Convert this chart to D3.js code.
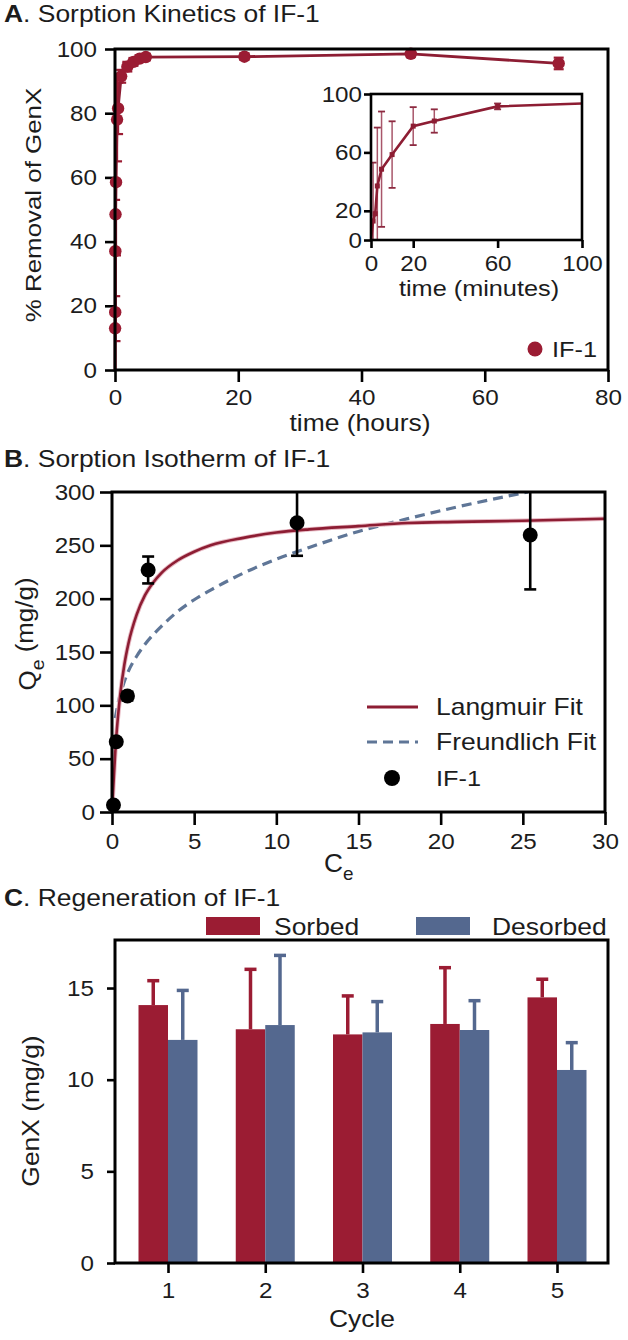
<!DOCTYPE html>
<html><head><meta charset="utf-8">
<script src="https://cdn.jsdelivr.net/npm/d3@7"></script>
<style>
body{margin:0;background:#fff}
svg{display:block}
text{font-family:"Liberation Sans",Arial,Helvetica,sans-serif;fill:#1c1c1c}
</style>
</head><body>
<svg id="chart" width="628" height="1340"></svg>
<script>
// ---------- Panel A: sorption kinetics (time in minutes, % removal) ----------
const kinMinutes = [0, 1, 2, 3, 5, 10, 20, 30, 60, 120, 180, 240, 300, 1260, 2880, 4320];
const kinRemoval = [0, 13, 18, 37, 48.5, 58.5, 78, 81.5, 91.5, 94.5, 96, 97, 97.5, 97.6, 98.5, 95.5];
const kinError   = [0, 40, 5, 40, 39.5, 22.8, 13, 8, 2, 1.5, 1.2, 1, 1, 1, 1, 1.8];
const xTicksA = [0, 20, 40, 60, 80];
const yTicksA = [0, 20, 40, 60, 80, 100];
const xTicksInset = [0, 20, 60, 100];
const yTicksInset = [0, 20, 60, 100];

// ---------- Panel B: sorption isotherm ----------
const isoCe  = [0.09, 0.26, 0.94, 2.2, 11.26, 25.45];
const isoQe  = [6.6, 65.9, 108.7, 226.9, 271.2, 259.7];
const isoErr = [0, 0, 4, 12.6, 31, 51];
const langCe = [0, 0.25, 0.5, 0.75, 1, 1.5, 2, 2.5, 3, 4, 5, 6, 8, 10, 12, 15, 18, 21, 25, 30];
const langQe = [0, 68, 110, 138, 158, 185, 203, 215, 224, 236, 244, 250, 257, 262, 265, 268, 271, 272, 273, 275];
const freuCe = [0.2, 0.4, 0.7, 1, 1.5, 2, 3, 4, 5, 6, 8, 10, 12, 15, 18, 21, 25.3];
const freuQe = [88, 104, 120, 132, 146, 157, 174, 188, 199, 208, 224, 237, 248, 263, 275, 286, 300];
const xTicksB = [0, 5, 10, 15, 20, 25, 30];
const yTicksB = [0, 50, 100, 150, 200, 250, 300];

// ---------- Panel C: regeneration ----------
const cycles = ["1", "2", "3", "4", "5"];
const seriesNames = ["Sorbed", "Desorbed"];
const sorbed      = [14.07, 12.75, 12.47, 13.04, 14.49];
const sorbedErr   = [1.33, 3.27, 2.1, 3.07, 0.99];
const desorbed    = [12.17, 12.98, 12.58, 12.71, 10.53];
const desorbedErr = [2.7, 3.8, 1.68, 1.6, 1.49];
const yTicksC = [0, 5, 10, 15];

// ---------- styling ----------
const RED = "#9b1c33", RED_LINE = "#8d1d33", BLUE = "#54688f", DASH = "#5f7697";
const SX = 1.15, TSX = 1.1, TICK = 22;
const svg = d3.select("#chart");
svg.append("rect").attr("width", 628).attr("height", 1340).attr("fill", "#fff");

function label(g, x, y, parts, o = {}) {
  const size = o.size || 23, sx = o.sx || SX;
  const t = g.append("text")
    .attr("transform", `translate(${x},${y})` + (o.rotate ? ` rotate(${o.rotate})` : "") + ` scale(${sx},1)`)
    .attr("text-anchor", o.anchor || "start")
    .style("font-size", size + "px");
  parts.forEach(p => {
    const ts = t.append("tspan").text(p.t);
    if (p.bold) ts.style("font-weight", "bold");
    if (p.dy) ts.attr("dy", p.dy);
    if (p.size) ts.style("font-size", p.size + "px");
  });
  return t;
}
function styleAxis(g, left) {
  g.attr("font-size", null).attr("font-family", null);
  g.select(".domain").remove();
  g.selectAll(".tick line").attr("stroke", "#000").attr("stroke-width", 2.6);
  g.selectAll(".tick text").style("font-size", TICK + "px").attr("fill", "#1c1c1c").each(function () {
    const t = d3.select(this);
    const x = +t.attr("x") || 0;
    t.attr("x", 0).attr("transform", `translate(${x},0) scale(${TSX},1)`);
  });
}
function frame(g, b, w) {
  g.append("rect").attr("x", b.l).attr("y", b.t).attr("width", b.r - b.l).attr("height", b.b - b.t)
    .attr("fill", "none").attr("stroke", "#000").attr("stroke-width", w || 3);
}
function clip(id, b) {
  svg.append("clipPath").attr("id", id).append("rect")
    .attr("x", b.l).attr("y", b.t).attr("width", b.r - b.l).attr("height", b.b - b.t);
  return `url(#${id})`;
}

// ================= Panel A =================
const kin = kinMinutes.map((m, i) => ({ m, v: kinRemoval[i], e: kinError[i] }));
const A = { l: 115, r: 608, t: 49, b: 370 };
const xA = d3.scaleLinear().domain([0, 80]).range([A.l, A.r]);
const yA = d3.scaleLinear().domain([0, 100]).range([A.b, A.t]);
const gA = svg.append("g");
label(gA, 4, 22, [{ t: "A", bold: true }, { t: ". Sorption Kinetics of IF-1" }]);
gA.append("g").attr("transform", `translate(0,${A.b})`)
  .call(d3.axisBottom(xA).tickValues(xTicksA).tickFormat(d3.format("d")).tickSize(12).tickPadding(7.5))
  .call(styleAxis);
gA.append("g").attr("transform", `translate(${A.l},0)`)
  .call(d3.axisLeft(yA).tickValues(yTicksA).tickFormat(d3.format("d")).tickSize(10).tickPadding(8))
  .call(styleAxis, true);
const clipA = clip("clipA", A);
const eA = gA.append("g").attr("clip-path", clipA);
kin.filter(d => d.e > 0).forEach(d => {
  const x = xA(d.m / 60), y1 = yA(d.v - d.e), y2 = yA(d.v + d.e);
  eA.append("line").attr("x1", x).attr("x2", x).attr("y1", y1).attr("y2", y2).attr("stroke", RED).attr("stroke-width", 2.2);
  [y1, y2].forEach(y => eA.append("line").attr("x1", x - 5).attr("x2", x + 5).attr("y1", y).attr("y2", y)
    .attr("stroke", RED).attr("stroke-width", 2.2));
});
gA.append("path").datum(kin).attr("fill", "none").attr("stroke", RED_LINE).attr("stroke-width", 2.8)
  .attr("d", d3.line().x(d => xA(d.m / 60)).y(d => yA(d.v)));
gA.selectAll("circle.pa").data(kin.slice(1)).join("circle").attr("class", "pa")
  .attr("cx", d => xA(d.m / 60)).attr("cy", d => yA(d.v)).attr("r", 6.2).attr("fill", RED);
frame(gA, A);
// legend
gA.append("circle").attr("cx", 535).attr("cy", 349).attr("r", 7.5).attr("fill", RED);
label(gA, 552, 357, [{ t: "IF-1" }], { size: 22 });
gA.append("text");
label(gA, 360, 431, [{ t: "time (hours)" }], { anchor: "middle" });
label(gA, 41, 205, [{ t: "% Removal of GenX" }], { anchor: "middle", rotate: -90, size: 22.5 });

// ---- inset ----
const I = { l: 371, r: 582, t: 94, b: 240 };
const xI = d3.scaleLinear().domain([0, 100]).range([I.l, I.r]);
const yI = d3.scaleLinear().domain([0, 100]).range([I.b, I.t]);
const gI = svg.append("g");
gI.append("rect").attr("x", I.l).attr("y", I.t).attr("width", I.r - I.l).attr("height", I.b - I.t).attr("fill", "#fff");
gI.append("g").attr("transform", `translate(0,${I.b})`)
  .call(d3.axisBottom(xI).tickValues(xTicksInset).tickSize(8).tickPadding(7))
  .call(styleAxis);
gI.append("g").attr("transform", `translate(${I.l},0)`)
  .call(d3.axisLeft(yI).tickValues(yTicksInset).tickSize(7).tickPadding(2))
  .call(styleAxis, true);
const clipI = clip("clipI", I);
const eI = gI.append("g").attr("clip-path", clipI);
const kinIn = kin.filter(d => d.m <= 120);
kinIn.filter(d => d.e > 0 && d.m !== 2).forEach(d => {
  const x = xI(d.m), y1 = yI(d.v - d.e), y2 = yI(d.v + d.e);
  eI.append("line").attr("x1", x).attr("x2", x).attr("y1", y1).attr("y2", y2).attr("stroke", "#a8566a").attr("stroke-width", 1.5);
  [y1, y2].forEach(y => eI.append("line").attr("x1", x - 3.5).attr("x2", x + 3.5).attr("y1", y).attr("y2", y)
    .attr("stroke", "#8d2a40").attr("stroke-width", 1.8));
});
eI.append("path").datum(kinIn).attr("fill", "none").attr("stroke", RED_LINE).attr("stroke-width", 2.6)
  .attr("d", d3.line().x(d => xI(d.m)).y(d => yI(d.v)));
eI.selectAll("rect.mk").data(kinIn.slice(1)).join("rect").attr("class", "mk")
  .attr("x", d => xI(d.m) - 2.5).attr("y", d => yI(d.v) - 2.5).attr("width", 5).attr("height", 5).attr("fill", RED_LINE);
frame(gI, I, 2.6);
label(gI, 479, 296, [{ t: "time (minutes)" }], { anchor: "middle", size: 22 });

// ================= Panel B =================
const B = { l: 112, r: 605, t: 492, b: 812 };
const xB = d3.scaleLinear().domain([0, 30]).range([B.l, B.r]);
const yB = d3.scaleLinear().domain([0, 300]).range([B.b, B.t]);
const gB = svg.append("g");
label(gB, 4, 467, [{ t: "B", bold: true }, { t: ". Sorption Isotherm of IF-1" }]);
gB.append("g").attr("transform", `translate(0,${B.b})`)
  .call(d3.axisBottom(xB).tickValues(xTicksB).tickSize(13).tickPadding(8))
  .call(styleAxis);
gB.append("g").attr("transform", `translate(${B.l},0)`)
  .call(d3.axisLeft(yB).tickValues(yTicksB).tickSize(12).tickPadding(5))
  .call(styleAxis, true);
const clipB = clip("clipB", B);
const cB = gB.append("g").attr("clip-path", clipB);
const lang = langCe.map((c, i) => ({ c, q: langQe[i] }));
const freu = freuCe.map((c, i) => ({ c, q: freuQe[i] }));
const lineB = d3.line().x(d => xB(d.c)).y(d => yB(d.q)).curve(d3.curveMonotoneX);
cB.append("path").datum(freu).attr("fill", "none").attr("stroke", DASH).attr("stroke-width", 3.2)
  .attr("stroke-dasharray", "10,6").attr("d", lineB);
cB.append("path").datum(lang).attr("fill", "none").attr("stroke", "#e7b9c3").attr("stroke-width", 4.5).attr("d", lineB);
cB.append("path").datum(lang).attr("fill", "none").attr("stroke", RED_LINE).attr("stroke-width", 2.6).attr("d", lineB);
const iso = isoCe.map((c, i) => ({ c, q: isoQe[i], e: isoErr[i] }));
iso.filter(d => d.e > 0).forEach(d => {
  const x = xB(d.c), y1 = yB(d.q - d.e), y2 = yB(d.q + d.e);
  cB.append("line").attr("x1", x).attr("x2", x).attr("y1", y1).attr("y2", y2).attr("stroke", "#000").attr("stroke-width", 2.6);
  [y1, y2].forEach(y => cB.append("line").attr("x1", x - 6).attr("x2", x + 6).attr("y1", y).attr("y2", y)
    .attr("stroke", "#000").attr("stroke-width", 2.6));
});
gB.selectAll("circle.pb").data(iso).join("circle").attr("class", "pb")
  .attr("cx", d => xB(d.c)).attr("cy", d => yB(d.q)).attr("r", 7.5).attr("fill", "#000");
frame(gB, B);
// legend
gB.append("line").attr("x1", 367).attr("x2", 418).attr("y1", 707).attr("y2", 707).attr("stroke", RED_LINE).attr("stroke-width", 3);
gB.append("line").attr("x1", 367).attr("x2", 418).attr("y1", 742).attr("y2", 742).attr("stroke", DASH).attr("stroke-width", 3.2).attr("stroke-dasharray", "10,6");
gB.append("circle").attr("cx", 392).attr("cy", 778).attr("r", 8).attr("fill", "#000");
label(gB, 436, 715, [{ t: "Langmuir Fit" }]);
label(gB, 436, 750, [{ t: "Freundlich Fit" }]);
label(gB, 436, 786, [{ t: "IF-1" }], { size: 22 });
label(gB, 324, 872, [{ t: "C" }, { t: "e", dy: "0.45em", size: 18 }], { size: 25, sx: 1.05 });
label(gB, 36, 634, [{ t: "Q" }, { t: "e", dy: "0.45em", size: 18 }, { t: " (mg/g)", dy: "-0.45em" }],
  { anchor: "middle", rotate: -90, size: 24, sx: 1.08 });

// ================= Panel C =================
const C = { l: 115, r: 608, t: 940, b: 1263 };
const xC = d3.scalePoint().domain(cycles).range([168, 557]);
const xSub = d3.scaleBand().domain(seriesNames).range([-29.5, 29.5]);
const yC = d3.scaleLinear().domain([0, 17.62]).range([C.b, C.t]);
const gC = svg.append("g");
label(gC, 4, 906, [{ t: "C", bold: true }, { t: ". Regeneration of IF-1" }]);
const bars = [];
cycles.forEach((c, i) => {
  bars.push({ c, s: "Sorbed", v: sorbed[i], e: sorbedErr[i], col: RED });
  bars.push({ c, s: "Desorbed", v: desorbed[i], e: desorbedErr[i], col: BLUE });
});
bars.forEach(d => {
  const x0 = xC(d.c) + xSub(d.s), w = xSub.bandwidth(), xm = x0 + w / 2;
  gC.append("line").attr("x1", xm).attr("x2", xm).attr("y1", yC(d.v)).attr("y2", yC(d.v + d.e)).attr("stroke", d.col).attr("stroke-width", 3.5);
  gC.append("line").attr("x1", xm - 6).attr("x2", xm + 6).attr("y1", yC(d.v + d.e)).attr("y2", yC(d.v + d.e)).attr("stroke", d.col).attr("stroke-width", 3.5);
  gC.append("rect").attr("x", x0).attr("y", yC(d.v)).attr("width", w).attr("height", yC(0) - yC(d.v)).attr("fill", d.col);
});
gC.append("g").attr("transform", `translate(0,${C.b})`)
  .call(d3.axisBottom(xC).tickSize(10).tickPadding(9.5))
  .call(styleAxis);
gC.append("g").attr("transform", `translate(${C.l},0)`)
  .call(d3.axisLeft(yC).tickValues(yTicksC).tickSize(8).tickPadding(13))
  .call(styleAxis, true);
frame(gC, C);
// legend
gC.append("rect").attr("x", 206).attr("y", 917).attr("width", 54).attr("height", 18).attr("fill", RED);
gC.append("rect").attr("x", 416).attr("y", 917).attr("width", 54).attr("height", 18).attr("fill", BLUE);
label(gC, 274, 935, [{ t: seriesNames[0] }]);
label(gC, 492, 935, [{ t: seriesNames[1] }]);
label(gC, 362, 1327, [{ t: "Cycle" }], { anchor: "middle" });
label(gC, 39, 1111, [{ t: "GenX (mg/g)" }], { anchor: "middle", rotate: -90 });
</script>
</body></html>
